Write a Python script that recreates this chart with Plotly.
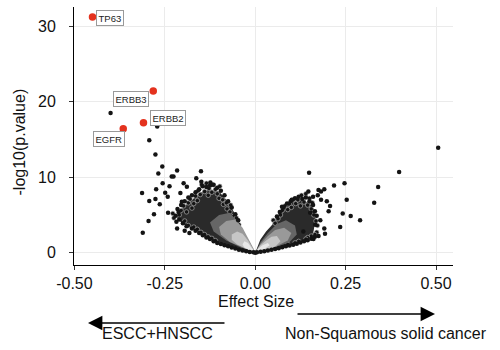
import plotly.graph_objects as go

# ---- data ----
hl_genes = ["TP63", "ERBB3", "ERBB2", "EGFR"]
hl_x = [-0.450, -0.282, -0.309, -0.365]
hl_y = [31.2, 21.4, 17.2, 16.4]
label_x = [-0.403, -0.344, -0.242, -0.405]
label_y = [31.15, 20.4, 17.8, 15.1]

# scattered (outlying) genes, left side
left_x = [-0.400, -0.271, -0.293, -0.276, -0.257, -0.268, -0.216, -0.150, -0.313, -0.311,
          -0.295, -0.293, -0.280, -0.276, -0.274, -0.256, -0.264, -0.249, -0.242, -0.237,
          -0.231, -0.226, -0.241, -0.216, -0.195, -0.182, -0.218, -0.163, -0.149, -0.198,
          -0.189, -0.124, -0.115, -0.207, -0.203, -0.212]
left_y = [18.5, 16.7, 14.9, 13.0, 11.4, 10.5, 10.9, 10.8, 7.9, 2.65,
          4.2, 6.85, 5.1, 7.1, 8.4, 9.2, 6.4, 7.95, 7.4, 8.8,
          10.1, 10.1, 5.3, 3.2, 2.9, 2.6, 4.1, 9.85, 9.4, 9.2,
          8.75, 9.3, 9.0, 7.9, 6.75, 5.4]

# genes in the upper part of the left cloud
lup_x = [-0.21, -0.205, -0.198, -0.19, -0.185, -0.18, -0.175, -0.17, -0.165, -0.16,
         -0.158, -0.152, -0.148, -0.14, -0.135, -0.13, -0.128, -0.12, -0.118, -0.11,
         -0.105, -0.10, -0.098, -0.09, -0.088, -0.08, -0.078, -0.07, -0.068, -0.06,
         -0.052, -0.045, -0.225, -0.228, -0.195, -0.185, -0.17, -0.16, -0.15, -0.14,
         -0.13, -0.12, -0.11]
lup_y = [5.0, 5.6, 6.2, 5.4, 6.6, 7.1, 5.9, 6.5, 7.5, 6.9,
         8.2, 7.7, 9.0, 8.1, 9.2, 7.6, 8.5, 8.0, 9.0, 8.4,
         7.8, 7.2, 8.8, 7.0, 6.4, 6.6, 5.8, 5.4, 6.3, 4.8,
         4.6, 3.7, 4.6, 5.2, 4.2, 3.6, 3.4, 3.1, 2.7, 2.4,
         2.1, 1.9, 1.6]

# scattered genes, right side
right_x = [0.506, 0.398, 0.149, 0.340, 0.329, 0.290, 0.264, 0.242, 0.235, 0.253,
           0.247, 0.218, 0.191, 0.207, 0.203, 0.191, 0.193, 0.175, 0.161, 0.147,
           0.175, 0.182, 0.101, 0.074, 0.173, 0.198, 0.160, 0.182, 0.152, 0.166,
           0.180, 0.133]
right_y = [13.9, 10.7, 10.6, 8.7, 6.6, 4.3, 4.85, 5.2, 3.4, 7.0,
           9.2, 8.9, 8.4, 6.2, 5.5, 3.2, 2.5, 2.2, 1.8, 8.1,
           8.3, 7.0, 7.0, 6.1, 7.6, 6.8, 7.4, 8.1, 5.3, 3.7,
           4.3, 2.8]

# genes in the upper part of the right cloud
rup_x = [0.07, 0.075, 0.082, 0.09, 0.095, 0.10, 0.105, 0.112, 0.118, 0.125,
         0.128, 0.135, 0.14, 0.145, 0.15, 0.155, 0.158, 0.162, 0.168, 0.172,
         0.17, 0.165, 0.155, 0.145, 0.14, 0.12, 0.11, 0.09, 0.05, 0.055, 0.063]
rup_y = [5.0, 5.6, 6.2, 5.7, 6.4, 6.0, 7.0, 6.5, 7.0, 6.2,
         7.6, 6.7, 7.8, 6.3, 7.2, 5.8, 6.6, 5.0, 4.2, 3.6,
         2.7, 2.4, 2.2, 2.0, 1.8, 1.5, 1.3, 1.1, 4.3, 3.9, 4.5]

# edge genes of the dense clouds
edge_x = [0.0, -0.005, -0.015, -0.025, -0.035, -0.045, -0.055, -0.065, -0.075, -0.085,
          -0.095, -0.105, -0.115, -0.125, -0.135, -0.145, -0.155, -0.165, -0.175, -0.19,
          -0.20, -0.21, -0.22,
          -0.215, -0.205, -0.195, -0.185, -0.175, -0.165, -0.155, -0.145, -0.135, -0.125,
          -0.105, -0.095, -0.085, -0.075, -0.065, -0.055, -0.047,
          0.005, 0.015, 0.025, 0.035, 0.045, 0.055, 0.065, 0.075, 0.085, 0.095,
          0.105, 0.115, 0.125, 0.135, 0.145, 0.155, 0.165,
          0.06, 0.068, 0.078, 0.088, 0.098, 0.11, 0.12, 0.13, 0.14, 0.15, 0.16, 0.165, 0.17]
edge_y = [0.0, 0.05, 0.1, 0.2, 0.3, 0.4, 0.55, 0.7, 0.85, 1.0,
          1.15, 1.3, 1.5, 1.8, 2.0, 2.3, 2.6, 2.9, 3.2, 3.5,
          3.9, 4.4, 4.9,
          5.8, 6.3, 6.8, 7.3, 7.6, 8.0, 8.4, 8.8, 8.7, 8.9,
          8.6, 8.2, 7.6, 6.8, 6.0, 5.1, 4.3,
          0.05, 0.12, 0.2, 0.3, 0.4, 0.5, 0.6, 0.72, 0.85, 0.95,
          1.05, 1.2, 1.35, 1.5, 1.65, 1.85, 2.1,
          4.8, 5.4, 6.0, 6.5, 6.8, 7.2, 7.4, 7.1, 7.3, 6.8, 6.3, 5.5, 4.9]

# dense-cloud outlines (many overlapping genes)
lcloud_x = [0.0, -0.02, -0.05, -0.08, -0.11, -0.14, -0.17, -0.20, -0.215, -0.215, -0.20, -0.17,
            -0.15, -0.125, -0.10, -0.08, -0.06, -0.04, -0.02, 0.0]
lcloud_y = [0.0, 0.1, 0.4, 0.9, 1.6, 2.3, 3.0, 3.8, 4.5, 5.2, 6.0, 7.2,
            8.0, 8.4, 8.1, 7.0, 5.5, 3.5, 1.7, 0.0]
rcloud_x = [0.0, 0.014, 0.03, 0.047, 0.064, 0.075, 0.09, 0.11, 0.125, 0.15, 0.162, 0.167,
            0.162, 0.157, 0.133, 0.10, 0.077, 0.04, 0.01, 0.0]
rcloud_y = [0.0, 1.7, 2.8, 3.7, 5.1, 5.8, 6.5, 6.8, 6.9, 6.6, 5.8, 4.5,
            3.0, 2.0, 1.5, 1.0, 0.75, 0.35, 0.05, 0.0]

# low-significance core (lighter shading, nested)
lcore_x = [[0.0, -0.04, -0.08, -0.115, -0.125, -0.10, -0.07, -0.05, -0.03, -0.01, 0.0],
           [0.0, -0.035, -0.07, -0.095, -0.10, -0.08, -0.055, -0.035, -0.02, -0.005, 0.0],
           [0.0, -0.025, -0.05, -0.065, -0.065, -0.05, -0.035, -0.02, -0.01, 0.0],
           [0.0, -0.015, -0.03, -0.035, -0.03, -0.02, -0.01, 0.0]]
lcore_y = [[0.0, 0.7, 1.6, 2.8, 4.0, 5.0, 5.3, 4.2, 2.6, 0.9, 0.0],
           [0.0, 0.7, 1.4, 2.4, 3.4, 4.2, 4.4, 3.3, 2.0, 0.6, 0.0],
           [0.0, 0.55, 1.1, 1.7, 2.4, 2.8, 2.5, 1.6, 0.8, 0.0],
           [0.0, 0.35, 0.7, 1.1, 1.5, 1.3, 0.7, 0.0]]
rcore_x = [[0.0, 0.015, 0.035, 0.06, 0.085, 0.11, 0.115, 0.095, 0.06, 0.03, 0.0],
           [0.0, 0.015, 0.035, 0.055, 0.08, 0.10, 0.09, 0.06, 0.03, 0.0],
           [0.0, 0.012, 0.03, 0.045, 0.06, 0.07, 0.055, 0.03, 0.0],
           [0.0, 0.01, 0.02, 0.035, 0.04, 0.025, 0.0]]
rcore_y = [[0.0, 1.4, 2.6, 3.8, 4.3, 3.6, 2.4, 1.4, 0.8, 0.35, 0.0],
           [0.0, 1.2, 2.2, 3.0, 3.3, 2.6, 1.6, 0.9, 0.4, 0.0],
           [0.0, 0.9, 1.6, 2.1, 2.2, 1.5, 0.8, 0.3, 0.0],
           [0.0, 0.6, 1.0, 1.3, 1.0, 0.5, 0.0]]
core_colors = ["#666666", "#999999", "#c6c6c6", "#e8e8e8"]

x_ticks = [-0.50, -0.25, 0.00, 0.25, 0.50]
x_ticklabels = ["-0.50", "-0.25", "0.00", "0.25", "0.50"]
y_ticks = [0, 10, 20, 30]

FONT = "Liberation Sans, Arial, Helvetica, sans-serif"
DOT = "#141414"

fig = go.Figure()

for cx, cy in [(lcloud_x, lcloud_y), (rcloud_x, rcloud_y)]:
    fig.add_trace(go.Scatter(x=cx, y=cy, mode="lines", fill="toself",
                             fillcolor="#2a2a2a", line=dict(width=0, color="#2a2a2a"),
                             hoverinfo="skip", showlegend=False))
fig.add_trace(go.Scatter(x=lup_x + rup_x, y=lup_y + rup_y, mode="markers",
                         marker=dict(size=4.5, color=DOT, line=dict(width=0.6, color="#bdbdbd")),
                         showlegend=False))
for cores_x, cores_y in [(lcore_x, lcore_y), (rcore_x, rcore_y)]:
    for cx, cy, col in zip(cores_x, cores_y, core_colors):
        fig.add_trace(go.Scatter(x=cx, y=cy, mode="lines", fill="toself",
                                 fillcolor=col, line=dict(width=0, color=col),
                                 hoverinfo="skip", showlegend=False))

fig.add_trace(go.Scatter(x=edge_x + left_x + right_x, y=edge_y + left_y + right_y,
                         mode="markers", marker=dict(size=4.5, color=DOT),
                         showlegend=False))
fig.add_trace(go.Scatter(x=hl_x, y=hl_y, mode="markers",
                         marker=dict(size=7.5, color="#e4321e"),
                         text=hl_genes, showlegend=False))

for g, lx, ly in zip(hl_genes, label_x, label_y):
    fig.add_annotation(x=lx, y=ly, xref="x", yref="y", text=g, showarrow=False,
                       font=dict(family=FONT, size=9.5, color="#222"),
                       bgcolor="white", bordercolor="#9a9a9a", borderwidth=1, borderpad=1.5)

# titles
fig.add_annotation(x=0.48, y=-0.143, xref="paper", yref="paper", text="Effect Size",
                   showarrow=False, font=dict(family=FONT, size=16, color="#111"),
                   xanchor="center", yanchor="middle")
fig.add_annotation(x=-0.145, y=0.475, xref="paper", yref="paper", text="-log10(p.value)",
                   textangle=-90, showarrow=False,
                   font=dict(family=FONT, size=16, color="#111"),
                   xanchor="center", yanchor="middle")

# direction arrows
fig.add_annotation(x=0.0369, y=-0.2248, xref="paper", yref="paper", ax=138, ay=0,
                   text="", showarrow=True, arrowhead=2, arrowsize=1.8,
                   arrowwidth=1.6, arrowcolor="black")
fig.add_annotation(x=0.9525, y=-0.1899, xref="paper", yref="paper", ax=-139, ay=0,
                   text="", showarrow=True, arrowhead=2, arrowsize=1.8,
                   arrowwidth=1.6, arrowcolor="black")
fig.add_annotation(x=0.219, y=-0.2674, xref="paper", yref="paper", text="ESCC+HNSCC",
                   showarrow=False, font=dict(family=FONT, size=16, color="#111"),
                   xanchor="center", yanchor="middle")
fig.add_annotation(x=0.823, y=-0.2636, xref="paper", yref="paper",
                   text="Non-Squamous solid cancer",
                   showarrow=False, font=dict(family=FONT, size=16, color="#111"),
                   xanchor="center", yanchor="middle")

fig.update_layout(
    width=500, height=350,
    margin=dict(l=74, r=47, t=7, b=85),
    paper_bgcolor="white", plot_bgcolor="white",
    font=dict(family=FONT, color="#111"),
    xaxis=dict(range=[-0.5012, 0.547], tickvals=x_ticks, ticktext=x_ticklabels,
               showgrid=True, gridcolor="#ebebeb", gridwidth=1, zeroline=False,
               showline=True, linecolor="black", linewidth=1,
               ticks="outside", ticklen=4, tickcolor="#333",
               tickfont=dict(family=FONT, size=16, color="#111")),
    yaxis=dict(range=[-1.63, 32.54], tickvals=y_ticks,
               showgrid=True, gridcolor="#ebebeb", gridwidth=1, zeroline=False,
               showline=True, linecolor="black", linewidth=1,
               ticks="outside", ticklen=4, tickcolor="#333", ticklabelstandoff=10,
               tickfont=dict(family=FONT, size=16, color="#111")),
)

fig.write_html("out.html")
